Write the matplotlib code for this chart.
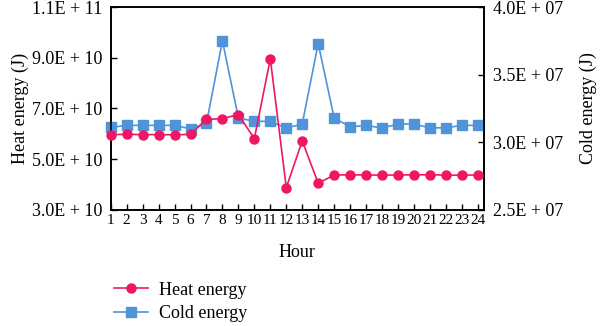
import matplotlib
matplotlib.use('Agg')
import matplotlib.pyplot as plt
from matplotlib.ticker import FuncFormatter

plt.rcParams['font.family'] = ['Liberation Serif', 'DejaVu Serif']
plt.rcParams['font.size'] = 13

# hourly energy profile
hours = list(range(1, 25))
heat_energy = [5.97e10, 5.98e10, 5.97e10, 5.97e10, 5.96e10, 5.98e10,
               6.57e10, 6.60e10, 6.76e10, 5.81e10, 8.96e10, 3.88e10,
               5.72e10, 4.05e10, 4.38e10, 4.38e10, 4.38e10, 4.37e10,
               4.38e10, 4.38e10, 4.39e10, 4.37e10, 4.37e10, 4.38e10]
cold_energy = [3.11e7, 3.125e7, 3.125e7, 3.125e7, 3.125e7, 3.10e7,
               3.14e7, 3.75e7, 3.18e7, 3.155e7, 3.155e7, 3.105e7,
               3.135e7, 3.73e7, 3.18e7, 3.115e7, 3.125e7, 3.105e7,
               3.135e7, 3.135e7, 3.107e7, 3.107e7, 3.125e7, 3.125e7]

heat_ticks = [3.0e10, 5.0e10, 7.0e10, 9.0e10, 1.1e11]
cold_ticks = [2.5e7, 3.0e7, 3.5e7, 4.0e7]

HEAT_COLOR = '#EE1763'
COLD_COLOR = '#4F93D8'


def sci_label(v, pos=None):
    mant, exp = f'{v:.1E}'.split('E')
    return f'{mant}E + {int(exp):02d}'


fig = plt.figure(figsize=(6.0, 3.26), dpi=100)
ax = fig.add_axes([0.1845, 0.356, 0.6225, 0.6225])
ax2 = ax.twinx()
# heat curve sits above the cold curve
ax.set_zorder(ax2.get_zorder() + 1)
ax.patch.set_visible(False)

ax.plot(hours, heat_energy, color=HEAT_COLOR, marker='o', markersize=6.5,
        linewidth=1.2, clip_on=False, zorder=3, label='Heat energy')
ax2.plot(hours, cold_energy, color=COLD_COLOR, marker='s', markersize=6.5,
         linewidth=1.2, clip_on=False, zorder=3, label='Cold energy')

ax.set_xlim(1, 24.4)
ax.set_ylim(3.0e10, 1.1e11)
ax2.set_ylim(2.5e7, 4.0e7)
ax.set_xticks(hours)
ax.set_yticks(heat_ticks)
ax2.set_yticks(cold_ticks)
ax.yaxis.set_major_formatter(FuncFormatter(sci_label))
ax2.yaxis.set_major_formatter(FuncFormatter(sci_label))

ax.tick_params(axis='x', direction='in', length=4, width=1, pad=3, labelsize=11)
ax.tick_params(axis='y', direction='in', length=4, width=1, pad=6, labelsize=13)
ax2.tick_params(axis='y', direction='in', length=4, width=1, pad=6, labelsize=13)

for a in (ax, ax2):
    for s in a.spines.values():
        s.set_linewidth(1.2)

ax.set_ylabel('Heat energy (J)', fontsize=13, labelpad=2)
ax2.set_ylabel('Cold energy (J)', fontsize=13, labelpad=12)
ax.set_xlabel('Hour', fontsize=13, labelpad=12)

h1, l1 = ax.get_legend_handles_labels()
h2, l2 = ax2.get_legend_handles_labels()
fig.legend(h1 + h2, l1 + l2, loc='upper left', bbox_to_anchor=(0.178, 0.158),
           frameon=False, fontsize=13, handlelength=1.9, handletextpad=0.6,
           labelspacing=0.35, borderaxespad=0)

fig.savefig('out.png', dpi=100)
